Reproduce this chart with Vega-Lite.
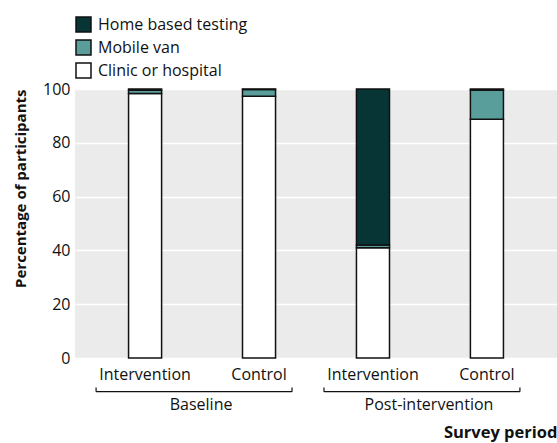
{
  "$schema": "https://vega.github.io/schema/vega-lite/v6.json",
  "width": 482,
  "height": 269,
  "autosize": {"type": "none"},
  "padding": {"left": 75, "top": 89, "right": 0, "bottom": 85},
  "background": "white",
  "config": {
    "font": "Open Sans",
    "view": {"fill": "#ebebeb", "stroke": null},
    "axis": {
      "labelFont": "Open Sans", "labelFontSize": 16, "labelColor": "#111",
      "titleFont": "Open Sans", "titleFontSize": 15, "titleFontWeight": "bold", "titleColor": "#111",
      "ticks": false, "domain": false
    },
    "axisY": {"gridColor": "white", "gridWidth": 1.5, "labelPadding": 5, "titlePadding": 14, "tickCount": 6, "titleAnchor": "end"},
    "axisX": {"grid": false, "labelPadding": 8, "titlePadding": 42, "titleFontSize": 16.5, "titleAnchor": "end", "labelExpr": "split(datum.label, ': ')[1]", "labelAngle": 0},
    "legend": {
      "orient": "top", "direction": "vertical", "title": null,
      "symbolType": "square", "symbolSize": 225, "symbolStrokeColor": "#111", "symbolStrokeWidth": 1.5,
      "labelFont": "Open Sans", "labelFontSize": 16, "labelColor": "#111",
      "rowPadding": 2, "labelOffset": 6, "offset": 8
    }
  },
  "datasets": {
    "bars": [
      {"group": "Baseline: Intervention", "period": "Baseline", "arm": "Intervention", "type": "Clinic or hospital", "pct": 98.3},
      {"group": "Baseline: Intervention", "period": "Baseline", "arm": "Intervention", "type": "Mobile van", "pct": 1.2},
      {"group": "Baseline: Intervention", "period": "Baseline", "arm": "Intervention", "type": "Home based testing", "pct": 0.5},
      {"group": "Baseline: Control", "period": "Baseline", "arm": "Control", "type": "Clinic or hospital", "pct": 97.3},
      {"group": "Baseline: Control", "period": "Baseline", "arm": "Control", "type": "Mobile van", "pct": 2.5},
      {"group": "Baseline: Control", "period": "Baseline", "arm": "Control", "type": "Home based testing", "pct": 0.2},
      {"group": "Post-intervention: Intervention", "period": "Post-intervention", "arm": "Intervention", "type": "Clinic or hospital", "pct": 41.0},
      {"group": "Post-intervention: Intervention", "period": "Post-intervention", "arm": "Intervention", "type": "Mobile van", "pct": 1.0},
      {"group": "Post-intervention: Intervention", "period": "Post-intervention", "arm": "Intervention", "type": "Home based testing", "pct": 58.0},
      {"group": "Post-intervention: Control", "period": "Post-intervention", "arm": "Control", "type": "Clinic or hospital", "pct": 88.8},
      {"group": "Post-intervention: Control", "period": "Post-intervention", "arm": "Control", "type": "Mobile van", "pct": 10.7},
      {"group": "Post-intervention: Control", "period": "Post-intervention", "arm": "Control", "type": "Home based testing", "pct": 0.5}
    ],
    "brackets": [
      {"period": "Baseline", "first": "Baseline: Intervention", "last": "Baseline: Control"},
      {"period": "Post-intervention", "first": "Post-intervention: Intervention", "last": "Post-intervention: Control"}
    ]
  },
  "layer": [
    {
      "data": {"name": "bars"},
      "transform": [{"calculate": "indexof(['Clinic or hospital','Mobile van','Home based testing'], datum.type)", "as": "stackOrder"}],
      "mark": {"type": "bar", "stroke": "#111", "strokeWidth": 1.5},
      "encoding": {
        "x": {"field": "group", "type": "nominal", "title": "Survey period",
              "scale": {"domain": ["Baseline: Intervention", "Baseline: Control", "Post-intervention: Intervention", "Post-intervention: Control"], "paddingInner": 0.71, "paddingOuter": 0.47}},
        "y": {"field": "pct", "type": "quantitative", "stack": "zero", "title": "Percentage of participants", "scale": {"domain": [0, 100]}},
        "color": {"field": "type", "type": "nominal",
                  "scale": {"domain": ["Home based testing", "Mobile van", "Clinic or hospital"], "range": ["#073535", "#5a9e9b", "#ffffff"]}},
        "order": {"field": "stackOrder", "type": "quantitative"}
      }
    },
    {
      "data": {"name": "brackets"},
      "mark": {"type": "rule", "color": "#111", "strokeWidth": 1.2, "xOffset": -49, "x2Offset": 33},
      "encoding": {
        "x": {"field": "first", "type": "nominal", "title": "Survey period"},
        "x2": {"field": "last"},
        "y": {"datum": -12.5}
      }
    },
    {
      "data": {"name": "brackets"},
      "mark": {"type": "rule", "color": "#111", "strokeWidth": 1.2, "xOffset": -49},
      "encoding": {
        "x": {"field": "first", "type": "nominal", "title": "Survey period"},
        "y": {"datum": -12.5},
        "y2": {"datum": -11}
      }
    },
    {
      "data": {"name": "brackets"},
      "mark": {"type": "rule", "color": "#111", "strokeWidth": 1.2, "xOffset": 33},
      "encoding": {
        "x": {"field": "last", "type": "nominal", "title": "Survey period"},
        "y": {"datum": -12.5},
        "y2": {"datum": -11}
      }
    },
    {
      "data": {"name": "brackets"},
      "mark": {"type": "text", "xOffset": 56, "fontSize": 16, "font": "Open Sans", "color": "#111", "baseline": "middle", "align": "center"},
      "encoding": {
        "x": {"field": "first", "type": "nominal", "title": "Survey period"},
        "y": {"datum": -17.5},
        "text": {"field": "period"}
      }
    }
  ]
}
